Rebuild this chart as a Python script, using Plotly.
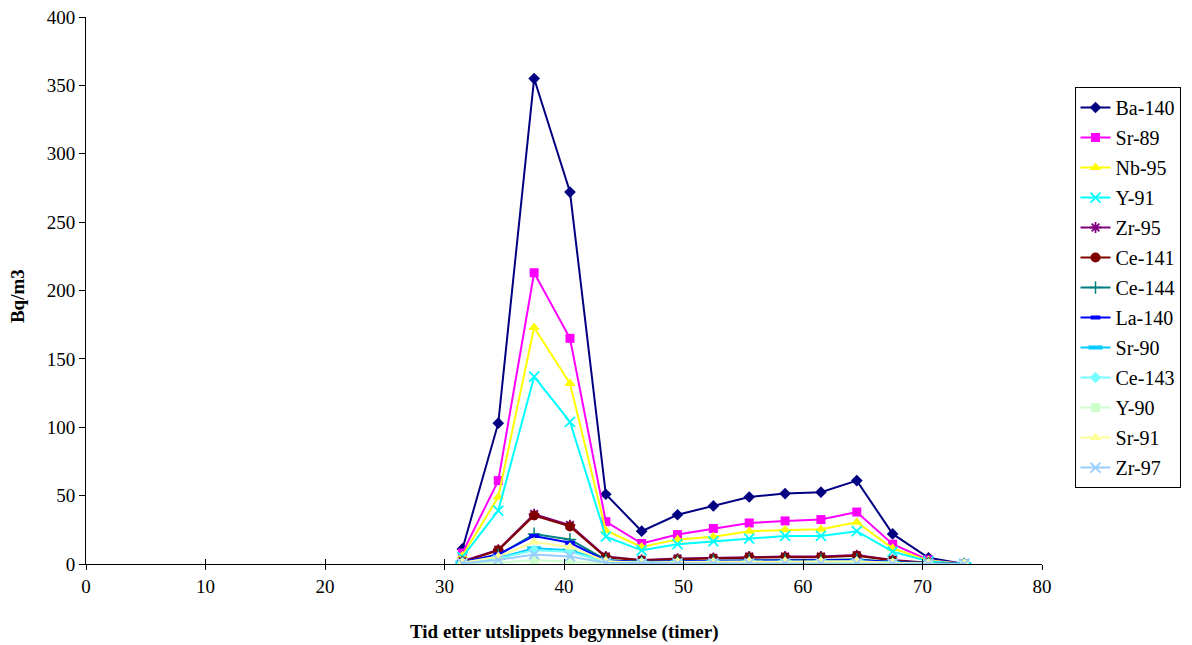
import plotly.graph_objects as go

# Sampling times (hours after the start of the release)
hours = [31.5, 34.5, 37.5, 40.5, 43.5, 46.5, 49.5, 52.5, 55.5, 58.5, 61.5, 64.5, 67.5, 70.5, 73.5]

# Activity concentrations, Bq/m3
ba140 = [11, 103, 355, 272, 51, 24, 36, 42.5, 49, 51.5, 52.5, 61, 22, 4.5, 0]
sr89 = [8, 61, 213, 165, 31, 15, 21.5, 26, 30, 31.5, 32.5, 38, 14.5, 3, 0]
nb95 = [6, 49, 173, 132, 24.5, 12.5, 18, 20, 24, 25, 25.5, 30.5, 11.5, 2.5, 0]
y91 = [5, 39, 137, 104, 20, 10, 14.5, 16.5, 18.5, 20.5, 20.5, 24, 9, 2, 0]
zr95 = [2, 10.5, 36.5, 28.5, 5.5, 3, 4, 4.5, 5.5, 5.5, 5.5, 6.5, 3, 1, 0]
ce141 = [1.5, 10, 35.5, 27.5, 5, 2.5, 3.5, 4, 5, 5, 5, 6, 2.5, 0.5, 0]
ce144 = [1, 6.5, 22, 18, 3, 1.5, 2, 2.5, 3, 3, 3, 3.5, 1.5, 0.5, 0]
la140 = [1.5, 7, 20.5, 15.5, 2.5, 1.5, 2, 2.5, 2.5, 2.5, 2.5, 3, 1.5, 0.3, 0]
sr90 = [1, 4.5, 11.5, 10, 2, 1, 1.5, 1.5, 1.5, 1.5, 1.5, 2, 1, 0.3, 0]
ce143 = [1, 4, 10, 9, 1.5, 1, 1, 1, 1, 1, 1, 1.5, 0.5, 0.2, 0]
y90 = [0.5, 1, 3, 1.5, 0.5, 0.3, 0.5, 0.5, 0.5, 0.5, 0.5, 0.5, 0.3, 0.1, 0]
sr91 = [1, 5.5, 16, 12.5, 2, 1, 1.5, 1.5, 2, 2, 2, 2, 1, 0.2, 0]
zr97 = [0.5, 3, 7, 5.5, 1, 0.5, 0.5, 0.5, 0.5, 0.5, 0.5, 0.5, 0.3, 0.1, 0]

# name, values, colour, marker symbol, marker size, marker outline width
series = [
    ("Ba-140", ba140, "#000080", "diamond", 9, 0),
    ("Sr-89", sr89, "#FF00FF", "square", 9, 0),
    ("Nb-95", nb95, "#FFFF00", "triangle-up", 10, 0),
    ("Y-91", y91, "#00FFFF", "x-thin-open", 10, 1.8),
    ("Zr-95", zr95, "#800080", "asterisk-open", 9, 1.8),
    ("Ce-141", ce141, "#800000", "circle", 10, 0),
    ("Ce-144", ce144, "#008080", "cross-thin-open", 9, 1.5),
    ("La-140", la140, "#0000FF", "line-ew-open", 7, 4),
    ("Sr-90", sr90, "#00CCFF", "line-ew-open", 10, 4),
    ("Ce-143", ce143, "#77FFFF", "diamond", 9, 0),
    ("Y-90", y90, "#CCFFCC", "square", 9, 0),
    ("Sr-91", sr91, "#FFFF99", "triangle-up", 10, 0),
    ("Zr-97", zr97, "#99CCFF", "x-thin-open", 10, 1.8),
]

SERIF = "Liberation Serif, Times New Roman, serif"
FS = 19

fig = go.Figure()
for i, (name, vals, color, symbol, size, lw) in enumerate(series):
    fig.add_trace(go.Scatter(
        x=hours, y=vals, name=name, mode="lines+markers",
        legendgroup=f"g{i}",
        line=dict(color=color, width=2),
        marker=dict(symbol=symbol, size=size, color=color,
                    line=dict(color=color, width=lw)),
    ))

# carrier trace so the overlay axis (inner half of crossing x ticks) is drawn
fig.add_trace(go.Scatter(x=[0, 80], y=[0, 0], xaxis="x2", mode="lines",
                         line=dict(width=0), showlegend=False, hoverinfo="skip"))

tick_font = dict(family=SERIF, size=FS, color="black")

fig.update_layout(
    width=1192, height=645,
    margin=dict(l=86, r=146, t=17, b=81),
    paper_bgcolor="white", plot_bgcolor="white",
    showlegend=True,
    legend=dict(
        x=1.034, xanchor="left", y=0.872, yanchor="top",
        bordercolor="black", borderwidth=1,
        font=dict(family=SERIF, size=20, color="black"),
        tracegroupgap=1, traceorder="grouped",
        itemwidth=30,
    ),
    xaxis=dict(range=[0, 80], dtick=10, showgrid=False, zeroline=False,
               showline=True, linecolor="black", linewidth=1,
               ticks="outside", tickcolor="black", ticklen=5,
               automargin=False, tickfont=tick_font),
    yaxis=dict(range=[0, 400], dtick=50, showgrid=False, zeroline=False,
               showline=True, linecolor="black", linewidth=1,
               ticks="outside", tickcolor="black", ticklen=6,
               automargin=False, tickfont=tick_font),
    xaxis2=dict(overlaying="x", matches="x", range=[0, 80], dtick=10,
                showgrid=False, zeroline=False, showline=False,
                ticks="inside", ticklen=5, tickcolor="black",
                showticklabels=False, side="bottom", automargin=False),
    annotations=[
        dict(text="<b>Tid etter utslippets begynnelse (timer)</b>",
             xref="paper", yref="paper", x=0.5, y=-0.125, yanchor="middle",
             xanchor="center", showarrow=False,
             font=dict(family=SERIF, size=FS, color="black")),
        dict(text="<b>Bq/m3</b>", textangle=-90,
             xref="paper", yref="paper", x=-0.0710, xanchor="center",
             y=0.49, yanchor="middle", showarrow=False,
             font=dict(family=SERIF, size=FS, color="black")),
    ],
)

fig.write_html("out.html")
